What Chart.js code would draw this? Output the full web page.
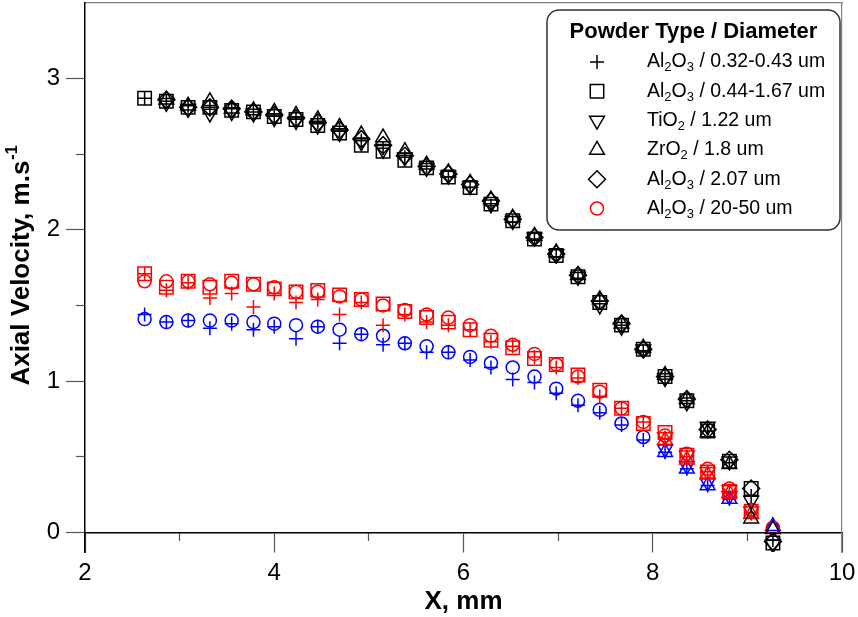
<!DOCTYPE html>
<html>
<head>
<meta charset="utf-8">
<script src="https://cdn.jsdelivr.net/npm/chart.js@4.4.0/dist/chart.umd.min.js"></script>
<style>
  html, body { margin: 0; padding: 0; background: #fff; }
  #wrap { width: 858px; height: 617px; }
</style>
</head>
<body>
<div id="wrap"><canvas id="chart" width="858" height="617"></canvas></div>
<script>
// radial positions, mm
const xPos = [2.63, 2.86, 3.09, 3.32, 3.55, 3.78, 4.00, 4.23, 4.46, 4.69,
              4.92, 5.15, 5.38, 5.61, 5.84, 6.07, 6.29, 6.52, 6.75, 6.98,
              7.21, 7.44, 7.67, 7.90, 8.13, 8.36, 8.58, 8.81, 9.04, 9.27];

// black group
const blkCross  = [2.87, 2.85, 2.82, 2.81, 2.80, 2.78, 2.76, 2.74, 2.71, 2.66, 2.59, 2.54, 2.48, 2.42, 2.35, 2.28, 2.16, 2.05, 1.94, 1.82, 1.68, 1.53, 1.37, 1.20, 1.03, 0.87, 0.67, 0.46, 0.24, -0.05];
const blkSquare = [2.87, 2.85, 2.81, 2.81, 2.79, 2.78, 2.75, 2.73, 2.69, 2.64, 2.56, 2.52, 2.46, 2.41, 2.35, 2.28, 2.17, 2.06, 1.94, 1.83, 1.69, 1.52, 1.37, 1.21, 1.03, 0.87, 0.67, 0.47, 0.29, -0.07];
const blkTriDn  = [null, 2.84, 2.80, 2.77, 2.78, 2.77, 2.74, 2.72, 2.69, 2.64, 2.58, 2.53, 2.48, 2.41, 2.36, 2.29, 2.17, 2.06, 1.95, 1.84, 1.69, 1.50, 1.36, 1.21, 1.02, 0.86, 0.70, 0.47, 0.21, -0.08];
const blkTriUp  = [null, 2.86, 2.82, 2.85, 2.80, 2.79, 2.78, 2.76, 2.73, 2.68, 2.63, 2.61, 2.52, 2.43, 2.38, 2.31, 2.20, 2.08, 1.96, 1.85, 1.70, 1.54, 1.38, 1.22, 1.04, 0.88, 0.66, 0.45, 0.09, 0.02];
const blkDiam   = [null, 2.86, 2.81, 2.81, 2.80, 2.78, 2.76, 2.74, 2.71, 2.66, 2.60, 2.56, 2.49, 2.42, 2.37, 2.30, 2.19, 2.07, 1.95, 1.84, 1.70, 1.53, 1.38, 1.21, 1.03, 0.88, 0.68, 0.48, 0.29, -0.06];

// red group
const redCircle = [1.66, 1.66, 1.66, 1.64, 1.65, 1.64, 1.62, 1.59, 1.59, 1.56, 1.54, 1.50, 1.47, 1.44, 1.42, 1.37, 1.30, 1.24, 1.18, 1.11, 1.03, 0.93, 0.82, 0.73, 0.64, 0.52, 0.42, 0.29, 0.15, 0.03];
const redSquare = [1.71, 1.62, 1.66, 1.62, 1.66, 1.64, 1.61, 1.59, 1.60, 1.57, 1.54, 1.51, 1.46, 1.42, 1.39, 1.34, 1.27, 1.22, 1.15, 1.11, 1.04, 0.94, 0.82, 0.72, 0.66, 0.51, 0.40, 0.27, 0.14, null];
const redCross  = [1.71, 1.60, 1.65, 1.55, 1.58, 1.49, 1.58, 1.52, 1.54, 1.44, 1.52, 1.37, 1.44, 1.39, 1.37, 1.34, 1.26, 1.23, 1.16, 1.09, 1.02, 0.90, 0.82, 0.73, 0.62, 0.50, 0.40, 0.27, 0.13, null];
const redTriUp  = [null, null, null, null, null, null, null, null, null, null, null, null, null, null, null, null, null, null, null, null, null, null, null, null, 0.61, 0.48, 0.38, 0.26, 0.12, null];
const redTriDn  = [null, null, null, null, null, null, null, null, null, null, null, null, null, null, null, null, null, null, null, null, null, null, null, null, 0.63, 0.51, 0.40, 0.28, 0.14, null];

// blue group
const bluCircle = [1.41, 1.39, 1.40, 1.40, 1.40, 1.39, 1.38, 1.37, 1.36, 1.34, 1.31, 1.30, 1.25, 1.23, 1.19, 1.16, 1.12, 1.09, 1.03, 0.95, 0.87, 0.81, 0.72, 0.63, null, null, null, null, null, 0.03];
const bluCross  = [1.44, 1.39, 1.40, 1.35, 1.38, 1.34, 1.36, 1.28, 1.36, 1.25, 1.31, 1.24, 1.25, 1.19, 1.19, 1.14, 1.09, 1.01, 0.99, 0.92, 0.84, 0.79, 0.71, 0.61, 0.53, 0.42, 0.31, 0.22, null, null];
const bluTriUp  = [null, null, null, null, null, null, null, null, null, null, null, null, null, null, null, null, null, null, null, null, null, null, null, null, 0.53, 0.42, 0.31, 0.22, null, 0.04];
const bluTriDn  = [null, null, null, null, null, null, null, null, null, null, null, null, null, null, null, null, null, null, null, null, null, null, null, null, 0.55, 0.44, 0.33, 0.24, null, null];

// legend text, "_n" = subscript
const legendTitle = 'Powder Type / Diameter';
const legendLabels = ['Al_2O_3 / 0.32-0.43 um', 'Al_2O_3 / 0.44-1.67 um', 'TiO_2 / 1.22 um',
                      'ZrO_2 / 1.8 um', 'Al_2O_3 / 2.07 um', 'Al_2O_3 / 20-50 um'];

const xMajor = [2, 4, 6, 8, 10];
const xMinor = [3, 5, 7, 9];
const yMajor = [0, 1, 2, 3];
const yMinor = [0.5, 1.5, 2.5];

const FONT = "'Liberation Sans', Arial, Helvetica, sans-serif";
Chart.defaults.font.family = FONT;
Chart.defaults.color = '#000';

const BLACK = '#000000', RED = '#ff0000', BLUE = '#0000ff';
const styles = {
  cross:  { pointStyle: 'cross',    radius: 7,   rotation: 0 },
  square: { pointStyle: 'rect',     radius: 9.5, rotation: 0 },
  triDn:  { pointStyle: 'triangle', radius: 8.5, rotation: 180 },
  triUp:  { pointStyle: 'triangle', radius: 8.5, rotation: 0 },
  diam:   { pointStyle: 'rectRot',  radius: 8.5, rotation: 0 },
  circle: { pointStyle: 'circle',   radius: 6.5, rotation: 0 }
};

const pts = ys => xPos.map((x, i) => ({ x: x, y: ys[i] })).filter(p => p.y !== null);

function series(label, ys, color, st) {
  const s = styles[st];
  return {
    label: label,
    data: pts(ys),
    showLine: false,
    xAxisID: 'x',
    yAxisID: 'y',
    pointStyle: s.pointStyle,
    pointRadius: s.radius,
    pointRotation: s.rotation,
    pointBorderWidth: 1.5,
    borderColor: color,
    backgroundColor: 'rgba(0,0,0,0)'
  };
}

const datasets = [
  series('blk cross', blkCross, BLACK, 'cross'),
  series('blk square', blkSquare, BLACK, 'square'),
  series('blk tri down', blkTriDn, BLACK, 'triDn'),
  series('blk tri up', blkTriUp, BLACK, 'triUp'),
  series('blk diamond', blkDiam, BLACK, 'diam'),
  series('red circle', redCircle, RED, 'circle'),
  series('red square', redSquare, RED, 'square'),
  series('red cross', redCross, RED, 'cross'),
  series('red tri up', redTriUp, RED, 'triUp'),
  series('red tri down', redTriDn, RED, 'triDn'),
  series('blue circle', bluCircle, BLUE, 'circle'),
  series('blue cross', bluCross, BLUE, 'cross'),
  series('blue tri up', bluTriUp, BLUE, 'triUp'),
  series('blue tri down', bluTriDn, BLUE, 'triDn')
];

const legendItems = [
  { st: 'cross', color: BLACK }, { st: 'square', color: BLACK }, { st: 'triDn', color: BLACK },
  { st: 'triUp', color: BLACK }, { st: 'diam', color: BLACK }, { st: 'circle', color: RED }
];

function drawRich(ctx, str, x, y, size) {
  const parts = str.split(/(_\d)/);
  for (const p of parts) {
    if (!p) continue;
    if (p[0] === '_') {
      ctx.font = Math.round(size * 0.68) + 'px ' + FONT;
      ctx.fillText(p[1], x, y + size * 0.3);
      x += ctx.measureText(p[1]).width;
    } else {
      ctx.font = size + 'px ' + FONT;
      ctx.fillText(p, x, y);
      x += ctx.measureText(p).width;
    }
  }
}

function drawMarker(ctx, st, color, x, y) {
  const s = styles[st];
  ctx.strokeStyle = color;
  ctx.fillStyle = 'rgba(0,0,0,0)';
  ctx.lineWidth = 1.5;
  Chart.helpers.drawPoint(ctx, { pointStyle: s.pointStyle, radius: s.radius, rotation: s.rotation, borderWidth: 1.5 }, x, y);
}

const extras = {
  id: 'extras',
  afterDraw(chart) {
    const ctx = chart.ctx;
    const area = chart.chartArea;
    ctx.save();

    // legend box
    const bx = area.right - 295, by = area.top + 7, bw = 293, bh = 220;
    ctx.beginPath();
    ctx.roundRect(bx, by, bw, bh, 12);
    ctx.fillStyle = '#fff';
    ctx.fill();
    ctx.lineWidth = 1.5;
    ctx.strokeStyle = '#333';
    ctx.stroke();

    ctx.fillStyle = '#000';
    ctx.textBaseline = 'middle';
    ctx.textAlign = 'center';
    ctx.font = 'bold 22px ' + FONT;
    ctx.fillText(legendTitle, bx + bw / 2, by + 22);

    ctx.textAlign = 'left';
    legendItems.forEach((it, i) => {
      const ry = by + 52 + i * 29.3;
      drawMarker(ctx, it.st, it.color, bx + 50, ry);
      ctx.fillStyle = '#000';
      drawRich(ctx, legendLabels[i], bx + 100, ry, 19.5);
    });

    // y axis title with superscript
    const main = 'Axial Velocity, m.s';
    const sup = '-1';
    ctx.font = 'bold 26px ' + FONT;
    const w1 = ctx.measureText(main).width;
    ctx.font = 'bold 16px ' + FONT;
    const w2 = ctx.measureText(sup).width;
    const cy = 266;
    ctx.translate(22, cy);
    ctx.rotate(-Math.PI / 2);
    ctx.textAlign = 'left';
    ctx.font = 'bold 26px ' + FONT;
    ctx.fillText(main, -(w1 + w2) / 2, 0);
    ctx.font = 'bold 16px ' + FONT;
    ctx.fillText(sup, -(w1 + w2) / 2 + w1 + 1, -9);
    ctx.restore();
  }
};

const tickGrey = '#555';
const noPadX = s => { s.paddingLeft = 0; s.paddingRight = 0; };
const noPadY = s => { s.paddingTop = 0; s.paddingBottom = 0; };

new Chart(document.getElementById('chart'), {
  type: 'scatter',
  data: { datasets: datasets },
  plugins: [extras],
  options: {
    responsive: false,
    animation: false,
    events: [],
    layout: { autoPadding: false, padding: { top: 3, right: 16, bottom: 65, left: 0 } },
    plugins: { legend: { display: false }, tooltip: { enabled: false } },
    scales: {
      x: {
        type: 'linear',
        position: { y: 0 },
        min: 2, max: 10,
        afterFit: s => { s.height = 65; noPadX(s); },
        afterBuildTicks: s => { s.ticks = xMajor.map(v => ({ value: v })); },
        border: { display: true, color: '#000', width: 1.5 },
        grid: { drawOnChartArea: false, tickLength: 19, tickColor: tickGrey, tickWidth: 1.2 },
        ticks: { padding: 8, font: { size: 24 }, color: '#000', autoSkip: false, maxRotation: 0, callback: v => String(v) },
        title: { display: true, text: 'X, mm', font: { size: 26, weight: 'bold' }, color: '#000', padding: { top: 0, bottom: -20 } }
      },
      x2: {
        type: 'linear',
        position: { y: 0 },
        min: 2, max: 10,
        afterFit: s => { s.height = 0; noPadX(s); },
        afterBuildTicks: s => { s.ticks = xMinor.map(v => ({ value: v })); },
        border: { display: false },
        grid: { drawOnChartArea: false, tickLength: 9, tickColor: tickGrey, tickWidth: 1.2 },
        ticks: { display: false }
      },
      xT: {
        type: 'linear',
        position: 'top',
        min: 2, max: 10,
        afterFit: s => { s.height = 0; noPadX(s); },
        border: { display: true, color: '#808080', width: 1.2 },
        grid: { display: false, drawTicks: false },
        ticks: { display: false }
      },
      y: {
        type: 'linear',
        position: 'left',
        min: -0.13, max: 3.5,
        afterFit: s => { s.width = 85; noPadY(s); },
        afterBuildTicks: s => { s.ticks = yMajor.map(v => ({ value: v })); },
        border: { display: true, color: '#000', width: 1.5 },
        grid: { drawOnChartArea: false, tickLength: 19, tickColor: tickGrey, tickWidth: 1.2 },
        ticks: { padding: 6, font: { size: 24 }, color: '#000', callback: v => String(v) }
      },
      y2: {
        type: 'linear',
        position: { x: 2 },
        min: -0.13, max: 3.5,
        afterFit: s => { s.width = 0; noPadY(s); },
        afterBuildTicks: s => { s.ticks = yMinor.map(v => ({ value: v })); },
        border: { display: false },
        grid: { drawOnChartArea: false, tickLength: 9, tickColor: tickGrey, tickWidth: 1.2 },
        ticks: { display: false }
      },
      yR: {
        type: 'linear',
        position: 'right',
        min: -0.13, max: 3.5,
        afterFit: s => { s.width = 0; noPadY(s); },
        border: { display: true, color: '#808080', width: 1.2 },
        grid: { display: false, drawTicks: false },
        ticks: { display: false }
      }
    }
  }
});
</script>
</body>
</html>
